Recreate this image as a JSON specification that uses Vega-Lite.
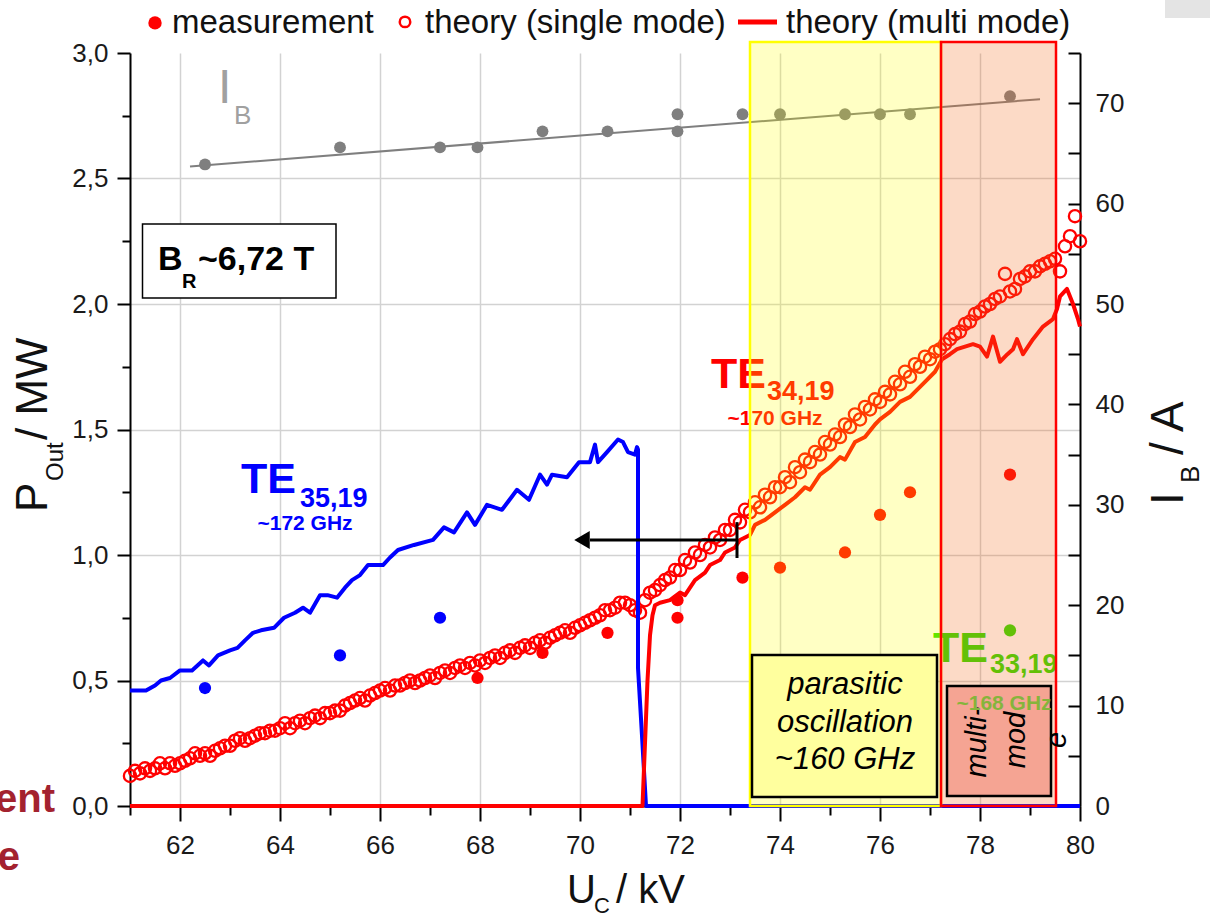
{
  "$schema": "https://vega.github.io/schema/vega-lite/v6.json",
  "width": 950,
  "height": 753,
  "autosize": "none",
  "padding": {"left": 130, "top": 53, "right": 130, "bottom": 113},
  "background": "white",
  "config": {
    "view": {"stroke": null},
    "font": "Liberation Sans",
    "text": {"font": "Liberation Sans"},
    "axis": {"labelFont": "Liberation Sans"}
  },
  "resolve": {"scale": {"y": "independent"}},
  "encoding": {
    "x": {
      "field": "x", "type": "quantitative",
      "scale": {"domain": [61, 80], "nice": false, "zero": false},
      "axis": {
        "title": null,
        "values": [61,62,63,64,65,66,67,68,69,70,71,72,73,74,75,76,77,78,79,80],
        "labelExpr": "datum.value % 2 == 0 ? format(datum.value, 'd') : ''",
        "tickSize": {"condition": {"test": "datum.value % 2 == 0", "value": 15}, "value": 9},
        "grid": true,
        "gridColor": "#d2d2d2",
        "gridWidth": 1.5,
        "gridOpacity": {"condition": {"test": "datum.value % 2 == 0 && datum.value < 80", "value": 1}, "value": 0},
        "domainColor": "#000000", "domainWidth": 2,
        "tickColor": "#000000", "tickWidth": 2,
        "labelFontSize": 26, "labelColor": "#1a1a1a", "labelPadding": 11,
        "labelFlush": false, "labelOverlap": false
      }
    }
  },
  "layer": [
    {
      "encoding": {
        "y": {
          "field": "y", "type": "quantitative",
          "scale": {"domain": [0, 3], "nice": false, "zero": false},
          "axis": {
            "title": null,
            "orient": "left",
            "values": [0,0.25,0.5,0.75,1,1.25,1.5,1.75,2,2.25,2.5,2.75,3],
            "labelExpr": "round(datum.value*2) == datum.value*2 ? replace(format(datum.value, '.1f'), '.', ',') : ''",
            "tickSize": {"condition": {"test": "round(datum.value*2) == datum.value*2", "value": 13}, "value": 8},
            "grid": true,
            "gridColor": "#d2d2d2",
            "gridWidth": 1.5,
            "gridOpacity": {"condition": {"test": "round(datum.value*2) == datum.value*2 && datum.value > 0 && datum.value < 3", "value": 1}, "value": 0},
            "domainColor": "#000000", "domainWidth": 2,
            "tickColor": "#000000", "tickWidth": 2,
            "labelFontSize": 26, "labelColor": "#1a1a1a", "labelPadding": 9,
            "labelFlush": false, "labelOverlap": false
          }
        }
      },
      "layer": [
        {
          "data": {"values": [
            {"x": 63.22, "y": 1.247, "t": "TE", "m": "TE35,19"},
            {"x": 72.62, "y": 1.665, "t": "TE", "m": "TE34,19"},
            {"x": 77.06, "y": 0.574, "t": "TE", "m": "TE33,19"}
          ]},
          "mark": {"type": "text", "align": "left", "baseline": "alphabetic", "fontSize": 43, "fontWeight": "bold"},
          "encoding": {
            "text": {"field": "t"},
            "color": {"field": "m", "type": "nominal", "scale": {"domain": ["TE35,19", "TE34,19", "TE33,19"], "range": ["#0000ff", "#ff0000", "#33dd00"]}, "legend": null}
          }
        },
        {
          "data": {"values": [
            {"x": 64.4, "y": 1.191, "t": "35,19", "m": "TE35,19"},
            {"x": 73.74, "y": 1.618, "t": "34,19", "m": "TE34,19"},
            {"x": 78.2, "y": 0.53, "t": "33,19", "m": "TE33,19"}
          ]},
          "mark": {"type": "text", "align": "left", "baseline": "alphabetic", "fontSize": 27, "fontWeight": "bold"},
          "encoding": {
            "text": {"field": "t"},
            "color": {"field": "m", "type": "nominal", "scale": {"domain": ["TE35,19", "TE34,19", "TE33,19"], "range": ["#0000ff", "#ff0000", "#33dd00"]}, "legend": null}
          }
        },
        {
          "data": {"values": [
            {"x": 64.5, "y": 1.1, "t": "~172 GHz", "m": "TE35,19"},
            {"x": 73.9, "y": 1.518, "t": "~170 GHz", "m": "TE34,19"}
          ]},
          "mark": {"type": "text", "align": "center", "baseline": "alphabetic", "fontSize": 21, "fontWeight": "bold"},
          "encoding": {
            "text": {"field": "t"},
            "color": {"field": "m", "type": "nominal", "scale": {"domain": ["TE35,19", "TE34,19", "TE33,19"], "range": ["#0000ff", "#ff0000", "#33dd00"]}, "legend": null}
          }
        },
        {
          "data": {"name": "sm"},
          "mark": {"type": "point", "shape": "circle", "filled": false, "color": "#ff0000", "strokeWidth": 2.3, "size": 150, "opacity": 1}
        },
        {
          "data": {"name": "te35"},
          "mark": {"type": "line", "color": "#0000ff", "strokeWidth": 4, "strokeJoin": "round"},
          "encoding": {"order": {"field": "i", "type": "quantitative"}}
        },
        {
          "data": {"name": "mm"},
          "mark": {"type": "line", "color": "#ff0000", "strokeWidth": 4, "strokeJoin": "round"},
          "encoding": {"order": {"field": "i", "type": "quantitative"}}
        },
        {
          "data": {"name": "meas"},
          "mark": {"type": "point", "shape": "circle", "filled": true, "size": 150, "opacity": 1},
          "encoding": {
            "color": {"field": "m", "type": "nominal", "scale": {"domain": ["TE35,19", "TE34,19", "TE33,19"], "range": ["#0000ff", "#ff0000", "#33dd00"]}, "legend": null}
          }
        }
      ]
    },
    {
      "encoding": {
        "y": {
          "field": "y", "type": "quantitative",
          "scale": {"domain": [0, 75], "nice": false, "zero": false},
          "axis": {
            "title": null,
            "orient": "right",
            "values": [0,5,10,15,20,25,30,35,40,45,50,55,60,65,70,75],
            "labelExpr": "datum.value % 10 == 0 && datum.value < 75 ? format(datum.value, 'd') : ''",
            "tickSize": -12,
            "grid": false,
            "domainColor": "#000000", "domainWidth": 2,
            "tickColor": "#000000", "tickWidth": 2,
            "labelFontSize": 26, "labelColor": "#1a1a1a", "labelPadding": 27,
            "labelFlush": false, "labelOverlap": false
          }
        }
      },
      "layer": [
        {
          "data": {"values": [{"x": 62.2, "y": 63.7}, {"x": 79.2, "y": 70.4}]},
          "mark": {"type": "line", "color": "#7f7f7f", "strokeWidth": 2}
        },
        {
          "data": {"name": "ib"},
          "mark": {"type": "point", "shape": "circle", "filled": true, "color": "#7f7f7f", "size": 140, "opacity": 1}
        }
      ]
    },
    {
      "encoding": {
        "y": {"field": "y", "type": "quantitative", "scale": {"domain": [0, 3], "nice": false, "zero": false}, "axis": null}
      },
      "layer": [
        {
          "data": {"values": [{"x": 73.4, "x2": 77.22, "y": 0, "y2": 3.044}]},
          "mark": {"type": "rect", "fill": "#ffff00", "fillOpacity": 0.23, "stroke": "#ffff00", "strokeWidth": 2.5},
          "encoding": {"x2": {"field": "x2"}, "y2": {"field": "y2"}}
        },
        {
          "data": {"values": [{"x": 77.22, "x2": 79.52, "y": 0, "y2": 3.044}]},
          "mark": {"type": "rect", "fill": "#f36b1b", "fillOpacity": 0.25, "stroke": "#ff0000", "strokeWidth": 2.5},
          "encoding": {"x2": {"field": "x2"}, "y2": {"field": "y2"}}
        },
        {
          "data": {"values": [{"x": 81.7, "x2": 82.6, "y": 3.139, "y2": 3.215}]},
          "mark": {"type": "rect", "fill": "#e4e4e4"},
          "encoding": {"x2": {"field": "x2"}, "y2": {"field": "y2"}}
        },
        {
          "data": {"values": [{"x": 61.25, "x2": 65.12, "y": 2.024, "y2": 2.319}]},
          "mark": {"type": "rect", "fill": "#ffffff", "stroke": "#000000", "strokeWidth": 1.5},
          "encoding": {"x2": {"field": "x2"}, "y2": {"field": "y2"}}
        },
        {
          "data": {"values": [{"x": 73.44, "x2": 77.14, "y": 0.036, "y2": 0.602}]},
          "mark": {"type": "rect", "fill": "#ffff9e", "stroke": "#000000", "strokeWidth": 2.5},
          "encoding": {"x2": {"field": "x2"}, "y2": {"field": "y2"}}
        },
        {
          "data": {"values": [{"x": 77.34, "x2": 79.42, "y": 0.04, "y2": 0.478}]},
          "mark": {"type": "rect", "fill": "#f5a493", "stroke": "#000000", "strokeWidth": 2.5},
          "encoding": {"x2": {"field": "x2"}, "y2": {"field": "y2"}}
        },
        {
          "data": {"values": [{"x": 61.56, "y": 2.135, "t": "B"}, {"x": 62.36, "y": 2.135, "t": "~6,72 T"}]},
          "mark": {"type": "text", "align": "left", "baseline": "alphabetic", "fontSize": 34, "fontWeight": "bold", "color": "#000000"},
          "encoding": {"text": {"field": "t"}}
        },
        {
          "data": {"values": [{"x": 62.04, "y": 2.064, "t": "R"}]},
          "mark": {"type": "text", "align": "left", "baseline": "alphabetic", "fontSize": 20, "fontWeight": "bold", "color": "#000000"},
          "encoding": {"text": {"field": "t"}}
        },
        {
          "data": {"values": [
            {"x": 75.3, "y": 0.482, "t": "parasitic"},
            {"x": 75.3, "y": 0.331, "t": "oscillation"},
            {"x": 75.3, "y": 0.183, "t": "~160 GHz"}
          ]},
          "mark": {"type": "text", "align": "center", "baseline": "middle", "fontSize": 31, "fontStyle": "italic", "color": "#000000"},
          "encoding": {"text": {"field": "t"}}
        },
        {
          "data": {"values": [
            {"x": 77.94, "y": 0.255, "t": "multi-"},
            {"x": 78.72, "y": 0.263, "t": "mod"},
            {"x": 79.54, "y": 0.263, "t": "e"}
          ]},
          "mark": {"type": "text", "align": "center", "baseline": "middle", "angle": 270, "fontSize": 29, "fontStyle": "italic", "color": "#000000"},
          "encoding": {"text": {"field": "t"}}
        },
        {
          "data": {"values": [{"x": 78.48, "y": 0.382, "t": "~168 GHz"}]},
          "mark": {"type": "text", "align": "center", "baseline": "alphabetic", "fontSize": 21, "fontWeight": "bold", "color": "#86b43c"},
          "encoding": {"text": {"field": "t"}}
        },
        {
          "data": {"values": [{"x": 70.2, "x2": 73.14, "y": 1.06}]},
          "mark": {"type": "rule", "color": "#000000", "strokeWidth": 3},
          "encoding": {"x2": {"field": "x2"}}
        },
        {
          "data": {"values": [{"x": 73.14, "y": 0.988, "y2": 1.131}]},
          "mark": {"type": "rule", "color": "#000000", "strokeWidth": 3},
          "encoding": {"y2": {"field": "y2"}}
        },
        {
          "data": {"values": [{"x": 70.04, "y": 1.06}]},
          "mark": {"type": "point", "shape": "triangle-left", "filled": true, "color": "#000000", "size": 320, "opacity": 1}
        },
        {
          "data": {"values": [{"x": 61.5, "y": 3.12}]},
          "mark": {"type": "point", "shape": "circle", "filled": true, "color": "#ff0000", "size": 180, "opacity": 1}
        },
        {
          "data": {"values": [{"x": 66.5, "y": 3.124}]},
          "mark": {"type": "point", "shape": "circle", "filled": false, "color": "#ff0000", "strokeWidth": 2.5, "size": 110, "opacity": 1}
        },
        {
          "data": {"values": [{"x": 73.16, "x2": 73.94, "y": 3.124}]},
          "mark": {"type": "rule", "color": "#ff0000", "strokeWidth": 5},
          "encoding": {"x2": {"field": "x2"}}
        },
        {
          "data": {"values": [
            {"x": 61.84, "y": 3.08, "t": "measurement"},
            {"x": 66.9, "y": 3.08, "t": "theory (single mode)"},
            {"x": 74.12, "y": 3.08, "t": "theory (multi mode)"}
          ]},
          "mark": {"type": "text", "align": "left", "baseline": "alphabetic", "fontSize": 33, "color": "#111111"},
          "encoding": {"text": {"field": "t"}}
        },
        {
          "data": {"values": [
            {"x": 59.08, "y": 1.171, "t": "P"},
            {"x": 59.08, "y": 1.458, "t": "/ MW"}
          ]},
          "mark": {"type": "text", "align": "left", "baseline": "middle", "angle": 270, "fontSize": 44, "color": "#111111"},
          "encoding": {"text": {"field": "t"}}
        },
        {
          "data": {"values": [{"x": 59.52, "y": 1.295, "t": "Out"}]},
          "mark": {"type": "text", "align": "left", "baseline": "middle", "angle": 270, "fontSize": 24, "color": "#111111"},
          "encoding": {"text": {"field": "t"}}
        },
        {
          "data": {"values": [
            {"x": 81.78, "y": 1.199, "t": "I"},
            {"x": 81.78, "y": 1.398, "t": "/ A"}
          ]},
          "mark": {"type": "text", "align": "left", "baseline": "middle", "angle": 270, "fontSize": 46, "color": "#111111"},
          "encoding": {"text": {"field": "t"}}
        },
        {
          "data": {"values": [{"x": 82.22, "y": 1.287, "t": "B"}]},
          "mark": {"type": "text", "align": "left", "baseline": "middle", "angle": 270, "fontSize": 26, "color": "#111111"},
          "encoding": {"text": {"field": "t"}}
        },
        {
          "data": {"values": [
            {"x": 69.74, "y": -0.386, "t": "U"},
            {"x": 70.72, "y": -0.386, "t": "/ kV"}
          ]},
          "mark": {"type": "text", "align": "left", "baseline": "alphabetic", "fontSize": 40, "color": "#111111"},
          "encoding": {"text": {"field": "t"}}
        },
        {
          "data": {"values": [{"x": 70.28, "y": -0.426, "t": "C"}]},
          "mark": {"type": "text", "align": "left", "baseline": "alphabetic", "fontSize": 22, "color": "#111111"},
          "encoding": {"text": {"field": "t"}}
        },
        {
          "data": {"values": [
            {"x": 59.5, "y": -0.024, "t": "ent"},
            {"x": 58.8, "y": -0.255, "t": "e"}
          ]},
          "mark": {"type": "text", "align": "right", "baseline": "alphabetic", "fontSize": 40, "fontWeight": "bold", "color": "#a3222f"},
          "encoding": {"text": {"field": "t"}}
        },
        {
          "data": {"values": [{"x": 62.76, "y": 2.801, "t": "I"}]},
          "mark": {"type": "text", "align": "left", "baseline": "alphabetic", "fontSize": 48, "color": "#a0a0a0"},
          "encoding": {"text": {"field": "t"}}
        },
        {
          "data": {"values": [{"x": 63.08, "y": 2.717, "t": "B"}]},
          "mark": {"type": "text", "align": "left", "baseline": "alphabetic", "fontSize": 26, "color": "#a0a0a0"},
          "encoding": {"text": {"field": "t"}}
        }
      ]
    }
  ],
  "datasets": {
    "meas": [
      {"x": 62.5, "y": 0.47, "m": "TE35,19"},
      {"x": 65.2, "y": 0.6, "m": "TE35,19"},
      {"x": 67.2, "y": 0.75, "m": "TE35,19"},
      {"x": 67.95, "y": 0.51, "m": "TE34,19"},
      {"x": 69.25, "y": 0.61, "m": "TE34,19"},
      {"x": 70.55, "y": 0.69, "m": "TE34,19"},
      {"x": 71.95, "y": 0.75, "m": "TE34,19"},
      {"x": 71.95, "y": 0.82, "m": "TE34,19"},
      {"x": 73.25, "y": 0.91, "m": "TE34,19"},
      {"x": 74.0, "y": 0.95, "m": "TE34,19"},
      {"x": 75.3, "y": 1.01, "m": "TE34,19"},
      {"x": 76.0, "y": 1.16, "m": "TE34,19"},
      {"x": 76.6, "y": 1.25, "m": "TE34,19"},
      {"x": 78.6, "y": 1.32, "m": "TE34,19"},
      {"x": 78.6, "y": 0.7, "m": "TE33,19"}
    ],
    "ib": [
      {"x": 62.5, "y": 63.9}, {"x": 65.2, "y": 65.6}, {"x": 67.2, "y": 65.6}, {"x": 67.95, "y": 65.6},
      {"x": 69.25, "y": 67.2}, {"x": 70.55, "y": 67.2}, {"x": 71.95, "y": 67.2}, {"x": 71.95, "y": 68.9},
      {"x": 73.25, "y": 68.9}, {"x": 74.0, "y": 68.9}, {"x": 75.3, "y": 68.9}, {"x": 76.0, "y": 68.9},
      {"x": 76.6, "y": 68.9}, {"x": 78.6, "y": 70.7}
    ],
    "te35": [
      {"i": 0, "x": 61.0, "y": 0.46}, {"i": 1, "x": 61.32, "y": 0.46}, {"i": 2, "x": 61.5, "y": 0.48},
      {"i": 3, "x": 61.62, "y": 0.5}, {"i": 4, "x": 61.8, "y": 0.51}, {"i": 5, "x": 62.0, "y": 0.54},
      {"i": 6, "x": 62.24, "y": 0.54}, {"i": 7, "x": 62.46, "y": 0.58}, {"i": 8, "x": 62.58, "y": 0.56},
      {"i": 9, "x": 62.76, "y": 0.6}, {"i": 10, "x": 63.0, "y": 0.62}, {"i": 11, "x": 63.15, "y": 0.63},
      {"i": 12, "x": 63.3, "y": 0.66}, {"i": 13, "x": 63.46, "y": 0.69}, {"i": 14, "x": 63.62, "y": 0.7},
      {"i": 15, "x": 63.88, "y": 0.71}, {"i": 16, "x": 64.08, "y": 0.75}, {"i": 17, "x": 64.3, "y": 0.77},
      {"i": 18, "x": 64.46, "y": 0.79}, {"i": 19, "x": 64.6, "y": 0.77}, {"i": 20, "x": 64.8, "y": 0.84},
      {"i": 21, "x": 64.95, "y": 0.84}, {"i": 22, "x": 65.14, "y": 0.83}, {"i": 23, "x": 65.3, "y": 0.87},
      {"i": 24, "x": 65.44, "y": 0.9}, {"i": 25, "x": 65.6, "y": 0.92}, {"i": 26, "x": 65.76, "y": 0.96},
      {"i": 27, "x": 66.06, "y": 0.96}, {"i": 28, "x": 66.2, "y": 0.99}, {"i": 29, "x": 66.36, "y": 1.02},
      {"i": 30, "x": 66.68, "y": 1.04}, {"i": 31, "x": 67.06, "y": 1.06}, {"i": 32, "x": 67.28, "y": 1.11},
      {"i": 33, "x": 67.48, "y": 1.09}, {"i": 34, "x": 67.74, "y": 1.17}, {"i": 35, "x": 67.9, "y": 1.12},
      {"i": 36, "x": 68.14, "y": 1.2}, {"i": 37, "x": 68.44, "y": 1.18}, {"i": 38, "x": 68.74, "y": 1.26},
      {"i": 39, "x": 68.98, "y": 1.22}, {"i": 40, "x": 69.2, "y": 1.32}, {"i": 41, "x": 69.34, "y": 1.28},
      {"i": 42, "x": 69.44, "y": 1.32}, {"i": 43, "x": 69.74, "y": 1.31}, {"i": 44, "x": 69.98, "y": 1.37},
      {"i": 45, "x": 70.2, "y": 1.37}, {"i": 46, "x": 70.3, "y": 1.44}, {"i": 47, "x": 70.36, "y": 1.37},
      {"i": 48, "x": 70.54, "y": 1.41}, {"i": 49, "x": 70.76, "y": 1.46}, {"i": 50, "x": 70.86, "y": 1.45},
      {"i": 51, "x": 70.96, "y": 1.41}, {"i": 52, "x": 71.1, "y": 1.4}, {"i": 53, "x": 71.14, "y": 1.43},
      {"i": 54, "x": 71.16, "y": 1.42}, {"i": 55, "x": 71.16, "y": 0.55}, {"i": 56, "x": 71.24, "y": 0.28},
      {"i": 57, "x": 71.32, "y": 0.0}, {"i": 58, "x": 80.0, "y": 0.0}
    ],
    "mm": [
      {"i": 0, "x": 61.0, "y": 0}, {"i": 1, "x": 71.25, "y": 0}, {"i": 2, "x": 71.3, "y": 0.25},
      {"i": 3, "x": 71.35, "y": 0.5}, {"i": 4, "x": 71.4, "y": 0.68}, {"i": 5, "x": 71.45, "y": 0.76},
      {"i": 6, "x": 71.5, "y": 0.8}, {"i": 7, "x": 71.6, "y": 0.81}, {"i": 8, "x": 71.8, "y": 0.82},
      {"i": 9, "x": 72.0, "y": 0.85}, {"i": 10, "x": 72.1, "y": 0.84}, {"i": 11, "x": 72.3, "y": 0.9},
      {"i": 12, "x": 72.5, "y": 0.93}, {"i": 13, "x": 72.6, "y": 0.96}, {"i": 14, "x": 72.8, "y": 0.98},
      {"i": 15, "x": 72.9, "y": 1.01}, {"i": 16, "x": 73.1, "y": 1.03}, {"i": 17, "x": 73.2, "y": 1.06},
      {"i": 18, "x": 73.4, "y": 1.08}, {"i": 19, "x": 73.5, "y": 1.12}, {"i": 20, "x": 73.7, "y": 1.14},
      {"i": 21, "x": 73.9, "y": 1.17}, {"i": 22, "x": 74.1, "y": 1.2}, {"i": 23, "x": 74.3, "y": 1.23},
      {"i": 24, "x": 74.5, "y": 1.27}, {"i": 25, "x": 74.6, "y": 1.26}, {"i": 26, "x": 74.8, "y": 1.32},
      {"i": 27, "x": 75.0, "y": 1.35}, {"i": 28, "x": 75.2, "y": 1.39}, {"i": 29, "x": 75.3, "y": 1.38},
      {"i": 30, "x": 75.5, "y": 1.45}, {"i": 31, "x": 75.7, "y": 1.47}, {"i": 32, "x": 75.9, "y": 1.52},
      {"i": 33, "x": 76.0, "y": 1.54}, {"i": 34, "x": 76.2, "y": 1.57}, {"i": 35, "x": 76.4, "y": 1.61},
      {"i": 36, "x": 76.6, "y": 1.63}, {"i": 37, "x": 76.8, "y": 1.67}, {"i": 38, "x": 76.9, "y": 1.69},
      {"i": 39, "x": 77.1, "y": 1.73}, {"i": 40, "x": 77.24, "y": 1.78}, {"i": 41, "x": 77.4, "y": 1.8},
      {"i": 42, "x": 77.54, "y": 1.82}, {"i": 43, "x": 77.7, "y": 1.83}, {"i": 44, "x": 77.86, "y": 1.84},
      {"i": 45, "x": 78.0, "y": 1.83}, {"i": 46, "x": 78.14, "y": 1.79}, {"i": 47, "x": 78.26, "y": 1.87},
      {"i": 48, "x": 78.4, "y": 1.77}, {"i": 49, "x": 78.55, "y": 1.8}, {"i": 50, "x": 78.66, "y": 1.82},
      {"i": 51, "x": 78.74, "y": 1.86}, {"i": 52, "x": 78.86, "y": 1.8}, {"i": 53, "x": 79.06, "y": 1.86},
      {"i": 54, "x": 79.26, "y": 1.91}, {"i": 55, "x": 79.46, "y": 1.94}, {"i": 56, "x": 79.54, "y": 1.98},
      {"i": 57, "x": 79.6, "y": 2.03}, {"i": 58, "x": 79.74, "y": 2.06}, {"i": 59, "x": 79.86, "y": 2.0},
      {"i": 60, "x": 79.96, "y": 1.94}, {"i": 61, "x": 80.0, "y": 1.91}
    ],
    "sm": [
      {"x": 61.0, "y": 0.12}, {"x": 61.1, "y": 0.14}, {"x": 61.2, "y": 0.13}, {"x": 61.3, "y": 0.15}, {"x": 61.4, "y": 0.14},
      {"x": 61.5, "y": 0.15}, {"x": 61.6, "y": 0.17}, {"x": 61.7, "y": 0.15}, {"x": 61.8, "y": 0.17}, {"x": 61.9, "y": 0.16},
      {"x": 62.0, "y": 0.17}, {"x": 62.1, "y": 0.18}, {"x": 62.2, "y": 0.19}, {"x": 62.3, "y": 0.21}, {"x": 62.4, "y": 0.2},
      {"x": 62.5, "y": 0.21}, {"x": 62.6, "y": 0.2}, {"x": 62.7, "y": 0.22}, {"x": 62.8, "y": 0.23}, {"x": 62.9, "y": 0.24},
      {"x": 63.0, "y": 0.24}, {"x": 63.1, "y": 0.26}, {"x": 63.2, "y": 0.27}, {"x": 63.3, "y": 0.26}, {"x": 63.4, "y": 0.27},
      {"x": 63.5, "y": 0.28}, {"x": 63.6, "y": 0.29}, {"x": 63.7, "y": 0.29}, {"x": 63.8, "y": 0.3}, {"x": 63.9, "y": 0.3},
      {"x": 64.0, "y": 0.31}, {"x": 64.1, "y": 0.33}, {"x": 64.2, "y": 0.31}, {"x": 64.3, "y": 0.33}, {"x": 64.4, "y": 0.34},
      {"x": 64.5, "y": 0.33}, {"x": 64.6, "y": 0.35}, {"x": 64.7, "y": 0.36}, {"x": 64.8, "y": 0.35}, {"x": 64.9, "y": 0.37},
      {"x": 65.0, "y": 0.37}, {"x": 65.1, "y": 0.38}, {"x": 65.2, "y": 0.38}, {"x": 65.3, "y": 0.4}, {"x": 65.4, "y": 0.41},
      {"x": 65.5, "y": 0.42}, {"x": 65.6, "y": 0.43}, {"x": 65.7, "y": 0.42}, {"x": 65.8, "y": 0.44}, {"x": 65.9, "y": 0.45},
      {"x": 66.0, "y": 0.46}, {"x": 66.1, "y": 0.47}, {"x": 66.2, "y": 0.46}, {"x": 66.3, "y": 0.48}, {"x": 66.4, "y": 0.48},
      {"x": 66.5, "y": 0.49}, {"x": 66.6, "y": 0.5}, {"x": 66.7, "y": 0.49}, {"x": 66.8, "y": 0.5}, {"x": 66.9, "y": 0.51},
      {"x": 67.0, "y": 0.52}, {"x": 67.1, "y": 0.51}, {"x": 67.2, "y": 0.53}, {"x": 67.3, "y": 0.54}, {"x": 67.4, "y": 0.53},
      {"x": 67.5, "y": 0.55}, {"x": 67.6, "y": 0.56}, {"x": 67.7, "y": 0.55}, {"x": 67.8, "y": 0.57}, {"x": 67.9, "y": 0.56},
      {"x": 68.0, "y": 0.58}, {"x": 68.1, "y": 0.57}, {"x": 68.2, "y": 0.59}, {"x": 68.3, "y": 0.6}, {"x": 68.4, "y": 0.59},
      {"x": 68.5, "y": 0.61}, {"x": 68.6, "y": 0.62}, {"x": 68.7, "y": 0.61}, {"x": 68.8, "y": 0.63}, {"x": 68.9, "y": 0.64},
      {"x": 69.0, "y": 0.63}, {"x": 69.1, "y": 0.65}, {"x": 69.2, "y": 0.66}, {"x": 69.3, "y": 0.65}, {"x": 69.4, "y": 0.67},
      {"x": 69.5, "y": 0.68}, {"x": 69.6, "y": 0.69}, {"x": 69.7, "y": 0.7}, {"x": 69.8, "y": 0.69}, {"x": 69.9, "y": 0.71},
      {"x": 70.0, "y": 0.72}, {"x": 70.1, "y": 0.73}, {"x": 70.2, "y": 0.74}, {"x": 70.3, "y": 0.75}, {"x": 70.4, "y": 0.76},
      {"x": 70.5, "y": 0.78}, {"x": 70.6, "y": 0.78}, {"x": 70.7, "y": 0.79}, {"x": 70.8, "y": 0.81}, {"x": 70.9, "y": 0.81},
      {"x": 71.0, "y": 0.8}, {"x": 71.1, "y": 0.78}, {"x": 71.2, "y": 0.77}, {"x": 71.3, "y": 0.82}, {"x": 71.4, "y": 0.85},
      {"x": 71.5, "y": 0.86}, {"x": 71.6, "y": 0.88}, {"x": 71.7, "y": 0.9}, {"x": 71.8, "y": 0.91}, {"x": 71.9, "y": 0.94},
      {"x": 72.0, "y": 0.94}, {"x": 72.1, "y": 0.98}, {"x": 72.2, "y": 0.97}, {"x": 72.3, "y": 1.01}, {"x": 72.4, "y": 1.0},
      {"x": 72.5, "y": 1.04}, {"x": 72.6, "y": 1.03}, {"x": 72.7, "y": 1.07}, {"x": 72.8, "y": 1.06}, {"x": 72.9, "y": 1.1},
      {"x": 73.0, "y": 1.1}, {"x": 73.1, "y": 1.14}, {"x": 73.2, "y": 1.13}, {"x": 73.3, "y": 1.18}, {"x": 73.4, "y": 1.17},
      {"x": 73.5, "y": 1.21}, {"x": 73.6, "y": 1.19}, {"x": 73.7, "y": 1.24}, {"x": 73.8, "y": 1.23}, {"x": 73.9, "y": 1.27},
      {"x": 74.0, "y": 1.27}, {"x": 74.1, "y": 1.31}, {"x": 74.2, "y": 1.29}, {"x": 74.3, "y": 1.35}, {"x": 74.4, "y": 1.33},
      {"x": 74.5, "y": 1.38}, {"x": 74.6, "y": 1.37}, {"x": 74.7, "y": 1.41}, {"x": 74.8, "y": 1.4}, {"x": 74.9, "y": 1.45},
      {"x": 75.0, "y": 1.44}, {"x": 75.1, "y": 1.48}, {"x": 75.2, "y": 1.47}, {"x": 75.3, "y": 1.52}, {"x": 75.4, "y": 1.51},
      {"x": 75.5, "y": 1.56}, {"x": 75.6, "y": 1.54}, {"x": 75.7, "y": 1.59}, {"x": 75.8, "y": 1.58}, {"x": 75.9, "y": 1.62},
      {"x": 76.0, "y": 1.61}, {"x": 76.1, "y": 1.65}, {"x": 76.2, "y": 1.64}, {"x": 76.3, "y": 1.69}, {"x": 76.4, "y": 1.68},
      {"x": 76.5, "y": 1.73}, {"x": 76.6, "y": 1.71}, {"x": 76.7, "y": 1.76}, {"x": 76.8, "y": 1.75}, {"x": 76.9, "y": 1.79},
      {"x": 77.0, "y": 1.78}, {"x": 77.1, "y": 1.81}, {"x": 77.2, "y": 1.82}, {"x": 77.3, "y": 1.84}, {"x": 77.4, "y": 1.86},
      {"x": 77.5, "y": 1.88}, {"x": 77.6, "y": 1.89}, {"x": 77.7, "y": 1.92}, {"x": 77.8, "y": 1.93}, {"x": 77.9, "y": 1.96},
      {"x": 78.0, "y": 1.97}, {"x": 78.1, "y": 1.99}, {"x": 78.2, "y": 2.0}, {"x": 78.3, "y": 2.02}, {"x": 78.4, "y": 2.03},
      {"x": 78.5, "y": 2.12}, {"x": 78.6, "y": 2.05}, {"x": 78.7, "y": 2.06}, {"x": 78.8, "y": 2.1}, {"x": 78.9, "y": 2.11},
      {"x": 79.0, "y": 2.13}, {"x": 79.1, "y": 2.13}, {"x": 79.2, "y": 2.15}, {"x": 79.3, "y": 2.16}, {"x": 79.4, "y": 2.17},
      {"x": 79.5, "y": 2.18}, {"x": 79.6, "y": 2.13}, {"x": 79.7, "y": 2.23}, {"x": 79.8, "y": 2.27}, {"x": 79.9, "y": 2.35},
      {"x": 80.0, "y": 2.25}
    ]
  }
}
